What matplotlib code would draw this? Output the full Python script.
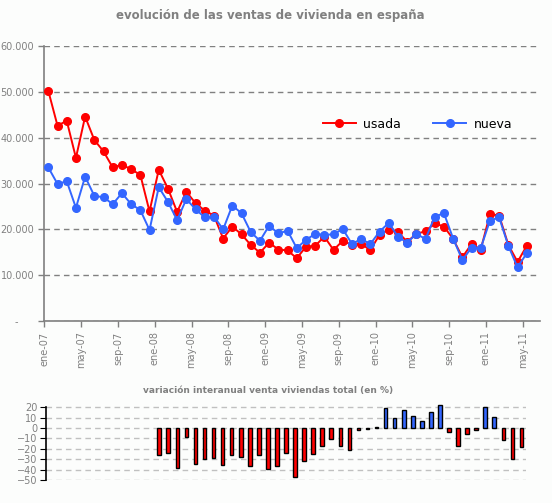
import numpy as np
import matplotlib
matplotlib.use("Agg")
import matplotlib.pyplot as plt

# monthly sales, ene-07 .. may-11
months = ["ene", "feb", "mar", "abr", "may", "jun", "jul", "ago", "sep", "oct", "nov", "dic"]
labels = [f"{months[i % 12]}-{7 + i // 12:02d}" for i in range(53)]

usada = [50200, 42600, 43700, 35600, 44600, 39500, 37000, 33500, 34100, 33100, 31900, 23900,
         33000, 28900, 23800, 28200, 25700, 24100, 23000, 18000, 20600, 18900, 16600, 14900,
         17100, 15600, 15400, 13700, 16200, 16400, 18400, 15500, 17500, 16600, 16800, 15500,
         18800, 19900, 19400, 17300, 19000, 19600, 21300, 20600, 17900, 13900, 16800, 15600,
         23300, 23000, 16600, 12900, 16400]
nueva = [33500, 29900, 30500, 24700, 31500, 27300, 27000, 25500, 27900, 25500, 24200, 19850,
         29200, 26000, 22000, 26600, 24400, 22600, 22800, 20000, 25200, 23500, 19400, 17500,
         20800, 19100, 19700, 15900, 17700, 19000, 18800, 18900, 20100, 16800, 17900, 16800,
         19500, 21400, 18400, 17100, 19000, 17900, 22800, 23500, 18000, 13300, 16000, 15900,
         21900, 22600, 16400, 11700, 14800]

# year-on-year change (%), ene-08 .. may-11
variacion = [-25.8, -23.9, -38.2, -8.6, -34.4, -29.6, -28.7, -35.4, -25.8, -27.7, -36.3, -25.8,
             -39.2, -36.3, -23.9, -46.8, -31.5, -24.8, -17.5, -10.5, -17.2, -21.0, -1.9, -1.0,
             1.3, 19.1, 9.6, 17.2, 11.8, 6.7, 15.3, 22.3, -3.8, -17.2, -5.7, -1.9, 20.4, 10.5,
             -11.5, -29.6, -18.2]

W, H = 552, 503
bg = "#fcfdfc"
gray = "#808080"

fig = plt.figure(figsize=(W / 100, H / 100), dpi=100, facecolor=bg)

# top chart
ax = fig.add_axes([44 / W, 1 - 321 / H, 496 / W, 275 / H], facecolor=bg)
x = np.arange(len(usada))
ax.plot(x, usada, color="#ff0000", lw=1.4, marker="o", ms=5.5, mew=1, label="usada", zorder=3)
ax.plot(x, nueva, color="#3366ff", lw=1.4, marker="o", ms=5.5, mew=1, label="nueva", zorder=4)
ax.set_xlim(-0.47, 53.44)
ax.set_ylim(0, 60000)
yt = np.arange(0, 60001, 10000)
ax.set_yticks(yt)
ax.set_yticklabels(["-     "] + [f"{v // 1000}.000" for v in yt[1:]])
xt = np.arange(0, 53, 4)
ax.set_xticks(xt - 0.43)
ax.set_xticklabels([labels[i] for i in xt], rotation=90, va="top")
ax.tick_params(colors=gray, labelcolor=gray, labelsize=7, length=4, width=1)
ax.tick_params(axis="y", pad=3)
ax.grid(axis="y", color=gray, ls=(0, (4, 3)), lw=1)
for s in ["top", "right"]:
    ax.spines[s].set_visible(False)
for s in ["left", "bottom"]:
    ax.spines[s].set_color(gray)
    ax.spines[s].set_linewidth(1.2)
ax.legend(loc="center left", bbox_to_anchor=(0.54, 0.716), ncol=2, frameon=False,
          fontsize=9, handlelength=2.6, columnspacing=2.6, handletextpad=0.6)

fig.text(0.489, 1 - 15 / H, "evolución de las ventas de vivienda en españa",
         ha="center", va="center", fontsize=8.5, fontweight="bold", color=gray)

# bottom chart
ax2 = fig.add_axes([46 / W, 1 - 480 / H, 480 / W, 75.9 / H], facecolor=bg)
xb = np.arange(12, 12 + len(variacion))
cols = ["#3366ff" if v > 0 else "#ff0000" for v in variacion]
ax2.bar(xb, variacion, width=0.4, color=cols, edgecolor="black", lw=1, zorder=3)
ax2.set_xlim(-0.5, 52.5)
ax2.set_ylim(-50, 23)
ax2.set_yticks(np.arange(-50, 21, 10))
ax2.set_xticks([])
ax2.grid(axis="y", color="#c0c0c0", ls=(0, (4, 3)), lw=1)
ax2.tick_params(axis="y", colors="black", labelcolor=gray, labelsize=7, length=4, pad=2)
for s in ["top", "right", "bottom"]:
    ax2.spines[s].set_visible(False)
ax2.spines["left"].set_bounds(-50, 20)
ax2.spines["left"].set_linewidth(1.2)

fig.text(0.486, 1 - 390 / H, "variación interanual venta viviendas total (en %)",
         ha="center", va="center", fontsize=6.5, fontweight="bold", color=gray)

fig.savefig("out.png", dpi=100, facecolor=bg)
